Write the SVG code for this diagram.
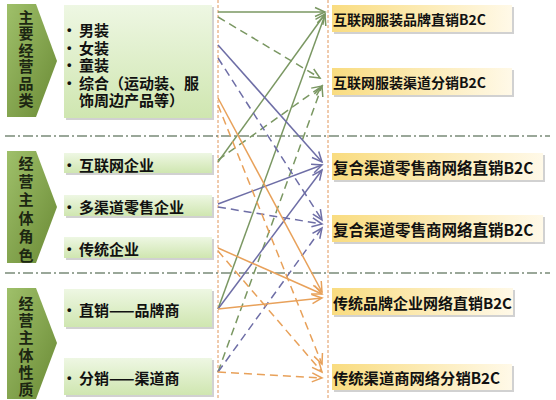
<svg xmlns="http://www.w3.org/2000/svg" width="556" height="400" viewBox="0 0 556 400">
<defs>
<linearGradient id="chev" x1="0" y1="0" x2="1" y2="1">
<stop offset="0" stop-color="#9fc06a"/>
<stop offset="1" stop-color="#6a8a35"/>
</linearGradient>
<linearGradient id="lbox" x1="0" y1="0" x2="0" y2="1">
<stop offset="0" stop-color="#eef7e3"/>
<stop offset="1" stop-color="#cfe6b0"/>
</linearGradient>
<linearGradient id="rbox" x1="0" y1="0" x2="1" y2="0">
<stop offset="0" stop-color="#f9dc80"/>
<stop offset="1" stop-color="#fff9e8"/>
</linearGradient>
<marker id="ag" markerUnits="userSpaceOnUse" markerWidth="12" markerHeight="10" refX="10" refY="4.5" orient="auto" overflow="visible"><path d="M0,0 L10,4.5 L0,9" fill="none" stroke="#7a9762" stroke-width="1.5"/></marker>
<marker id="ap" markerUnits="userSpaceOnUse" markerWidth="12" markerHeight="10" refX="10" refY="4.5" orient="auto" overflow="visible"><path d="M0,0 L10,4.5 L0,9" fill="none" stroke="#6e6ea6" stroke-width="1.5"/></marker>
<marker id="ao" markerUnits="userSpaceOnUse" markerWidth="12" markerHeight="10" refX="10" refY="4.5" orient="auto" overflow="visible"><path d="M0,0 L10,4.5 L0,9" fill="none" stroke="#e8a15a" stroke-width="1.5"/></marker>
<style>
.chev{fill:url(#chev)}
.ct{font-family:"Noto Sans CJK SC","Noto Sans",sans-serif;font-size:15px;font-weight:bold;fill:#1c2612;writing-mode:vertical-rl;text-orientation:upright}
.lb{fill:url(#lbox)}
.rb{fill:url(#rbox)}
.sh{fill:#9a9a9a;opacity:0.45}
.lt{font-family:"Noto Sans CJK SC","Noto Sans",sans-serif;font-size:15px;font-weight:bold;fill:#111;dominant-baseline:central}
.bu{font-family:"Liberation Sans",sans-serif;font-size:13px}
.rt{font-family:"Noto Sans CJK SC","Noto Sans",sans-serif;font-weight:bold;fill:#111;dominant-baseline:central}
.vl{stroke:#e0965a;stroke-width:1;stroke-dasharray:3,2;fill:none}
.hl{stroke:#7a8a78;stroke-width:1.5;stroke-dasharray:10,3,2,3;fill:none}
.g{stroke:#7a9762;stroke-width:1.5;fill:none;marker-end:url(#ag)}
.p{stroke:#6e6ea6;stroke-width:1.5;fill:none;marker-end:url(#ap)}
.o{stroke:#e8a15a;stroke-width:1.5;fill:none;marker-end:url(#ao)}
.d{stroke-dasharray:8,5}
</style>
</defs>
<rect width="556" height="400" fill="#ffffff"/>

<g id="guides">
<line class="vl" x1="218" y1="0" x2="218" y2="400"/>
<line class="vl" x1="328" y1="0" x2="328" y2="400"/>
<line class="hl" x1="5" y1="136" x2="550" y2="136"/>
<line class="hl" x1="5" y1="273" x2="550" y2="273"/>
</g>

<g id="chevron-1">
<path class="chev" d="M7,4 L36,4 L57,61 L36,117 L7,117 Z"/>
<text class="ct" x="26" y="9.5" letter-spacing="1.6">主要经营品类</text>
</g>
<g id="chevron-2">
<path class="chev" d="M7,151 L36,151 L57,207 L36,263 L7,263 Z"/>
<text class="ct" x="26" y="155.5" letter-spacing="3.4">经营主体角色</text>
</g>
<g id="chevron-3">
<path class="chev" d="M7,288 L36,288 L57,343 L36,399 L7,399 Z"/>
<text class="ct" x="26" y="295.5" letter-spacing="2.3">经营主体性质</text>
</g>

<g id="category-box">
<rect class="sh" x="66" y="7" width="148" height="113"/>
<rect class="lb" x="64" y="5" width="148" height="113"/>
<text class="lt"><tspan class="bu" x="67" y="29">•</tspan><tspan x="79" y="29">男装</tspan><tspan class="bu" x="67" y="47">•</tspan><tspan x="79" y="47">女装</tspan><tspan class="bu" x="67" y="64">•</tspan><tspan x="79" y="64">童装</tspan><tspan class="bu" x="67" y="82">•</tspan><tspan x="79" y="82">综合（运动装、服</tspan><tspan x="79" y="99">饰周边产品等）</tspan></text>
</g>

<g id="role-internet">
<rect class="sh" x="66" y="155" width="148" height="20"/>
<rect class="lb" x="64" y="153" width="148" height="20"/>
<text class="lt"><tspan class="bu" x="67" y="164">•</tspan><tspan x="79" y="164">互联网企业</tspan></text>
</g>
<g id="role-multichannel">
<rect class="sh" x="66" y="197" width="148" height="21"/>
<rect class="lb" x="64" y="195" width="148" height="21"/>
<text class="lt"><tspan class="bu" x="67" y="206">•</tspan><tspan x="79" y="206">多渠道零售企业</tspan></text>
</g>
<g id="role-traditional">
<rect class="sh" x="66" y="239" width="148" height="21"/>
<rect class="lb" x="64" y="237" width="148" height="21"/>
<text class="lt"><tspan class="bu" x="67" y="248">•</tspan><tspan x="79" y="248">传统企业</tspan></text>
</g>
<g id="nature-direct">
<rect class="sh" x="66" y="291" width="148" height="38"/>
<rect class="lb" x="64" y="289" width="148" height="38"/>
<text class="lt"><tspan class="bu" x="67" y="309">•</tspan><tspan x="79" y="309">直销——品牌商</tspan></text>
</g>
<g id="nature-distribution">
<rect class="sh" x="66" y="360" width="148" height="37"/>
<rect class="lb" x="64" y="358" width="148" height="37"/>
<text class="lt"><tspan class="bu" x="67" y="377">•</tspan><tspan x="79" y="377">分销——渠道商</tspan></text>
</g>

<g id="target-1">
<rect class="sh" x="334" y="7" width="180" height="27"/>
<rect class="rb" x="332" y="5" width="180" height="27"/>
<text class="rt" x="333" y="19" font-size="14">互联网服装品牌直销B2C</text>
</g>
<g id="target-2">
<rect class="sh" x="334" y="70" width="180" height="27"/>
<rect class="rb" x="332" y="68" width="180" height="27"/>
<text class="rt" x="333" y="82" font-size="14">互联网服装渠道分销B2C</text>
</g>
<g id="target-3">
<rect class="sh" x="334" y="155" width="211" height="27"/>
<rect class="rb" x="332" y="153" width="211" height="27"/>
<text class="rt" x="333" y="167" font-size="15.5">复合渠道零售商网络直销B2C</text>
</g>
<g id="target-4">
<rect class="sh" x="334" y="217" width="211" height="27"/>
<rect class="rb" x="332" y="215" width="211" height="27"/>
<text class="rt" x="333" y="229" font-size="15.5">复合渠道零售商网络直销B2C</text>
</g>
<g id="target-5">
<rect class="sh" x="334" y="290" width="181" height="27"/>
<rect class="rb" x="332" y="288" width="181" height="27"/>
<text class="rt" x="333" y="302" font-size="15">传统品牌企业网络直销B2C</text>
</g>
<g id="target-6">
<rect class="sh" x="334" y="366" width="180" height="26"/>
<rect class="rb" x="332" y="364" width="180" height="26"/>
<text class="rt" x="333" y="377" font-size="15.3">传统渠道商网络分销B2C</text>
</g>

<g id="connectors">
<line class="g" x1="218" y1="12" x2="325" y2="12"/>
<line class="g d" x1="218" y1="17" x2="320" y2="78"/>
<line class="g" x1="218" y1="162" x2="325" y2="14"/>
<line class="g d" x1="218" y1="160" x2="322" y2="86"/>
<line class="g" x1="218" y1="309" x2="325" y2="15"/>
<line class="g d" x1="218" y1="372" x2="322" y2="86"/>

<line class="p" x1="218" y1="45" x2="322" y2="162"/>
<line class="p d" x1="218" y1="58" x2="322" y2="220"/>
<line class="p" x1="218" y1="204" x2="322" y2="165"/>
<line class="p d" x1="218" y1="207" x2="322" y2="224"/>
<line class="p" x1="218" y1="309" x2="322" y2="170"/>
<line class="p d" x1="218" y1="372" x2="322" y2="228"/>

<line class="o" x1="218" y1="98" x2="322" y2="292"/>
<line class="o d" x1="218" y1="105" x2="322" y2="364"/>
<line class="o" x1="218" y1="248" x2="322" y2="294"/>
<line class="o d" x1="218" y1="251" x2="322" y2="372"/>
<line class="o" x1="218" y1="309" x2="322" y2="298"/>
<line class="o d" x1="218" y1="372" x2="322" y2="378"/>
</g>
</svg>
